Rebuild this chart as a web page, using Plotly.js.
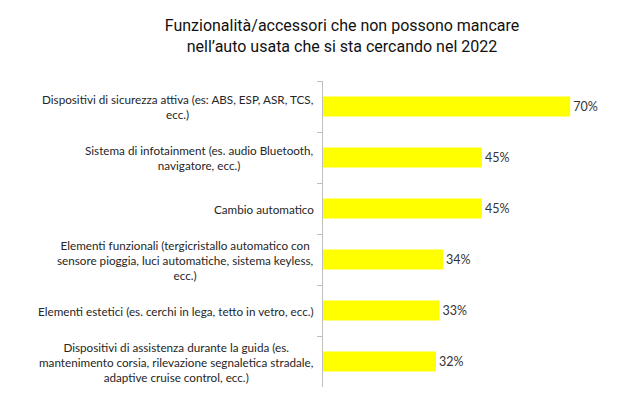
<!DOCTYPE html>
<html>
<head>
<meta charset="utf-8">
<script src="https://cdn.plot.ly/plotly-3.0.1.min.js"></script>
<style>
  html, body { margin: 0; padding: 0; background: #fff; }
  #chart { width: 625px; height: 405px; }
</style>
</head>
<body>
<div id="chart"></div>
<script>
var categories = [
  "Dispositivi di sicurezza attiva (es: ABS, ESP, ASR, TCS,<br>ecc.)",
  "Sistema di infotainment (es. audio Bluetooth,<br>navigatore, ecc.)",
  "Cambio automatico",
  "Elementi funzionali (tergicristallo automatico con<br>sensore pioggia, luci automatiche, sistema keyless,<br>ecc.)",
  "Elementi estetici (es. cerchi in lega, tetto in vetro, ecc.)",
  "Dispositivi di assistenza durante la guida (es.<br>mantenimento corsia, rilevazione segnaletica stradale,<br>adaptive cruise control, ecc.)"
];
var values = [70, 45, 45, 34, 33, 32];
var valueLabels = ["70%", "45%", "45%", "34%", "33%", "32%"];

var labelFont = { family: "Lato, 'Open Sans', sans-serif", size: 11.7, color: "#262626" };

var data = [
  {
    type: 'bar',
    orientation: 'h',
    x: values,
    y: categories,
    text: valueLabels,
    textposition: 'outside',
    textfont: { family: "Lato, sans-serif", size: 12.5, color: "#333" },
    cliponaxis: false,
    marker: { color: '#ffff00' },
    hoverinfo: 'none'
  }
];

// category labels drawn as centred multi-line annotations at each category
var annotations = categories.map(function (c) {
  return {
    xref: 'paper', yref: 'y',
    x: 0, y: c,
    xanchor: 'right', yanchor: 'middle',
    xshift: -7,
    text: c,
    align: 'center',
    showarrow: false,
    font: labelFont
  };
});

var layout = {
  width: 625,
  height: 405,
  margin: { l: 323, r: 10, t: 81, b: 18 },
  paper_bgcolor: '#fff',
  plot_bgcolor: '#fff',
  showlegend: false,
  bargap: 0.61,
  title: {
    text: "Funzionalità/accessori che non possono mancare<br>nell’auto usata che si sta cercando nel 2022",
    font: { family: "Roboto, sans-serif", size: 16, color: "#111" },
    x: 342 / 625, xanchor: 'center',
    yref: 'container',
    y: 0.923, yanchor: 'bottom'
  },
  xaxis: {
    range: [0, 82.7],
    visible: false,
    fixedrange: true
  },
  yaxis: {
    autorange: 'reversed',
    showticklabels: false,
    showline: true,
    linecolor: '#bfbfbf',
    linewidth: 1,
    ticks: 'outside',
    tickson: 'boundaries',
    ticklen: 5,
    tickcolor: '#bfbfbf',
    showgrid: false,
    zeroline: false,
    fixedrange: true
  },
  annotations: annotations
};

Plotly.newPlot('chart', data, layout, { displayModeBar: false, staticPlot: true });
</script>
</body>
</html>
